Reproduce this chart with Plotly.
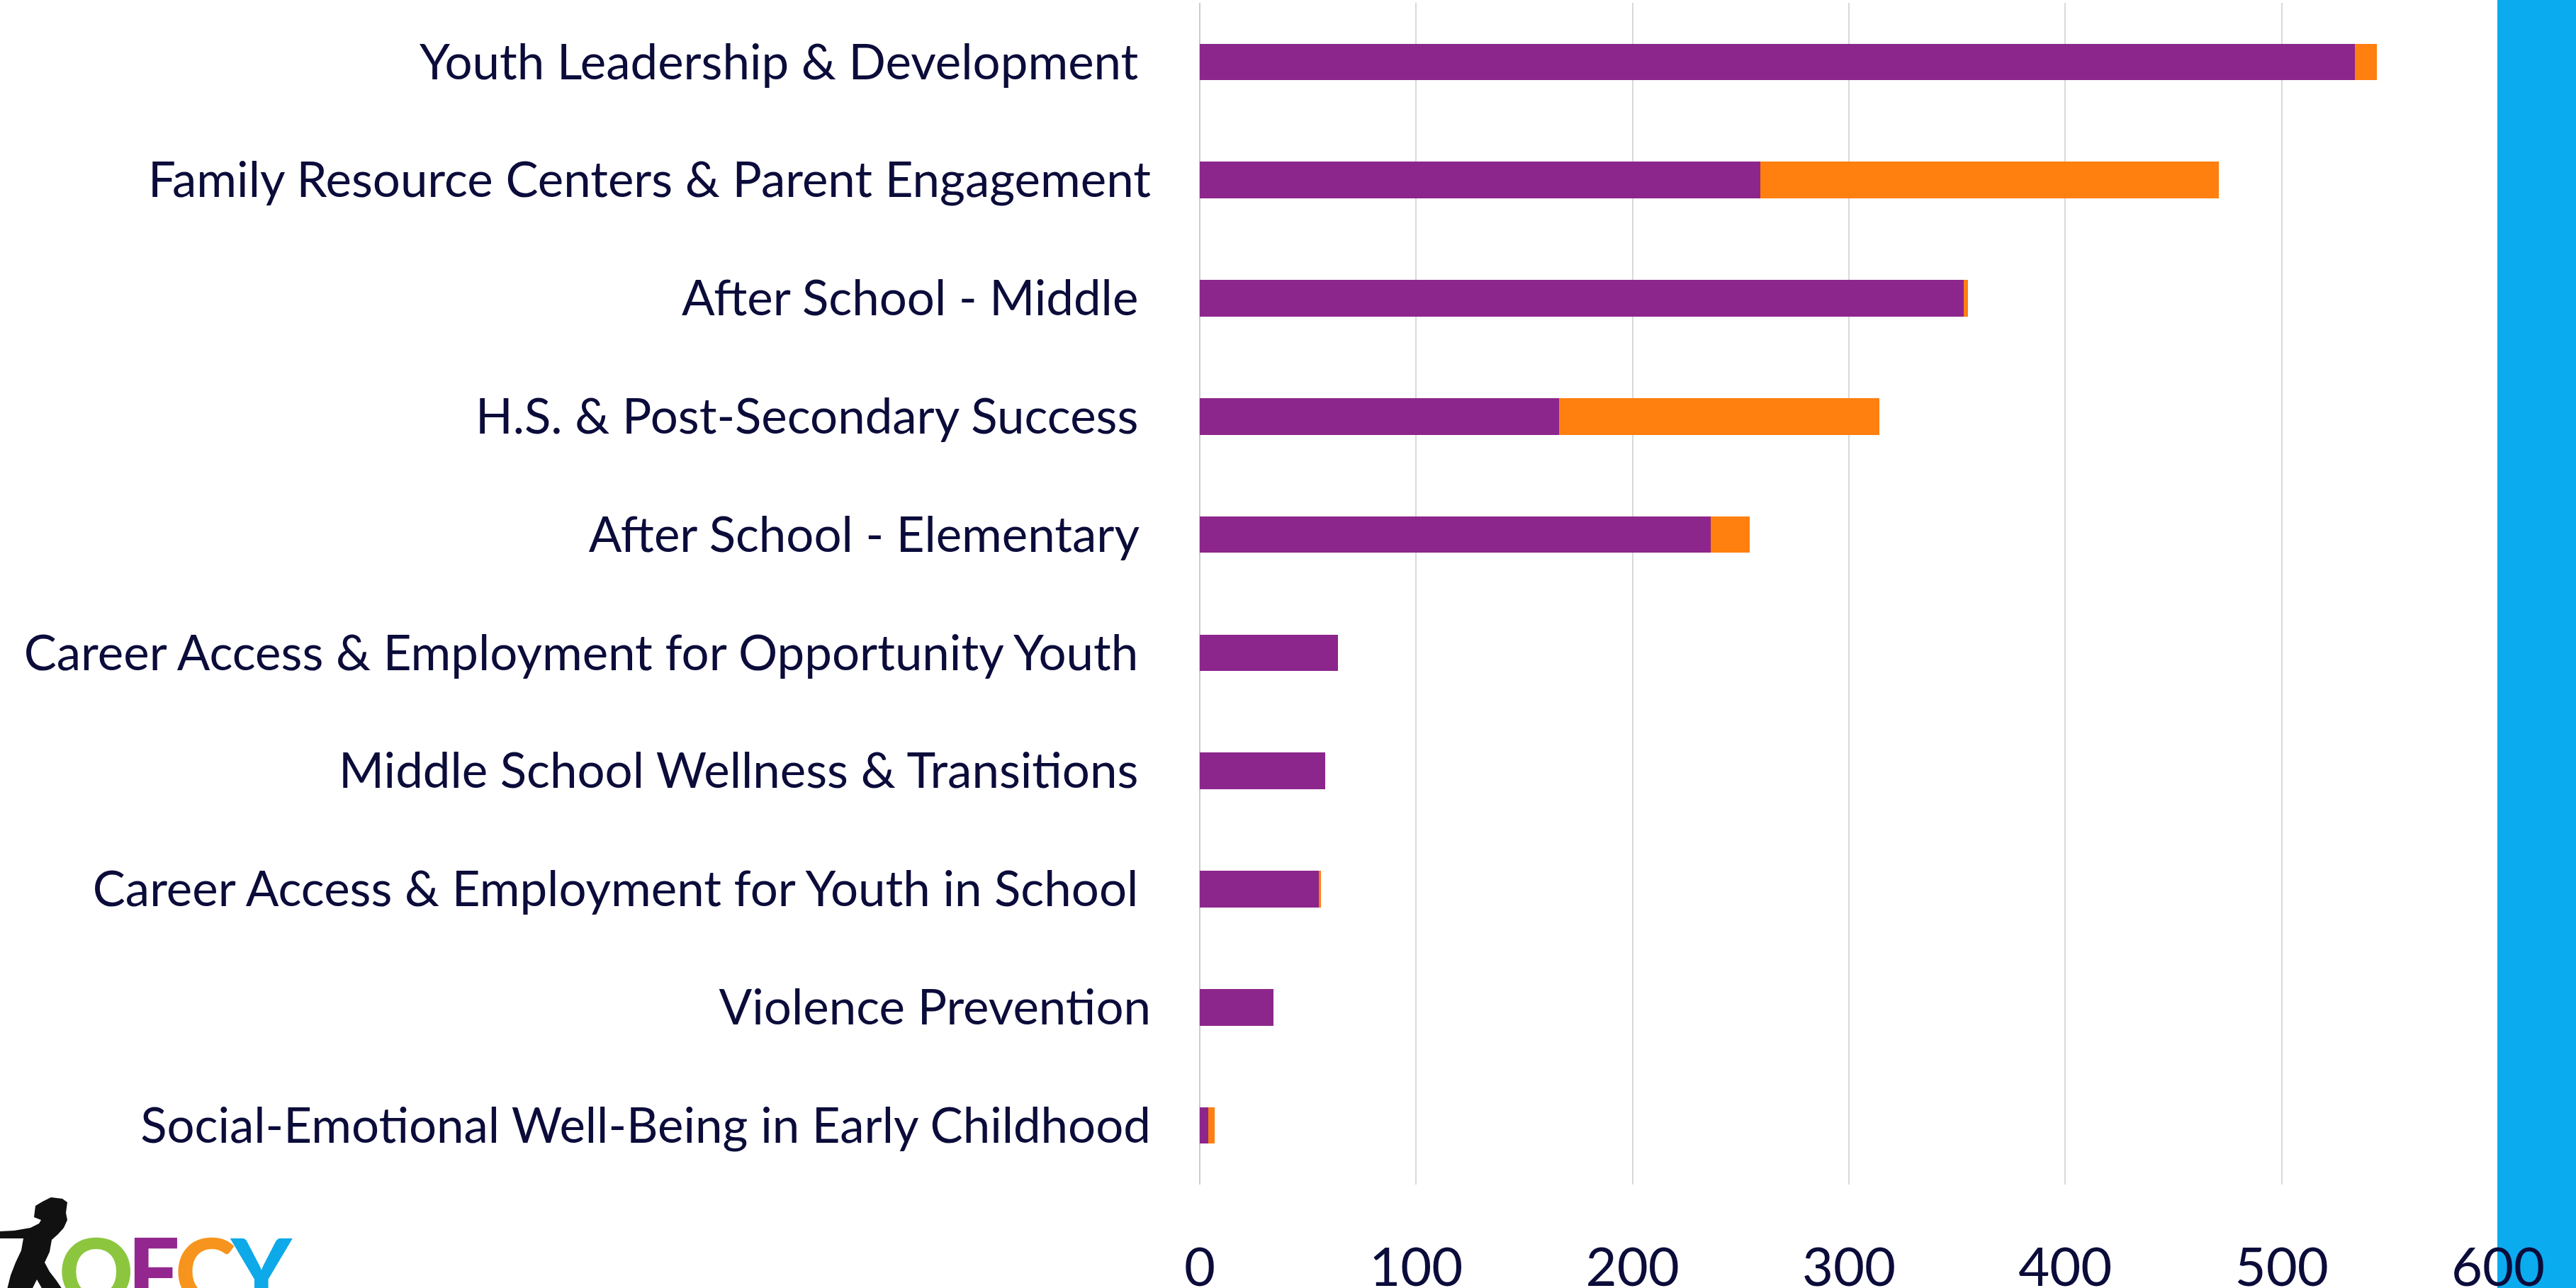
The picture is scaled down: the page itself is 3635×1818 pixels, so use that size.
import plotly.graph_objects as go

W, H = 3635, 1818
L, R, T, B = 1693, 110, 4, 146

categories = [
    "Youth Leadership & Development\u00a0",
    "Family Resource Centers & Parent Engagement",
    "After School - Middle\u00a0",
    "H.S. & Post-Secondary Success\u00a0",
    "After School - Elementary\u00a0",
    "Career Access & Employment for Opportunity Youth\u00a0",
    "Middle School Wellness & Transitions\u00a0",
    "Career Access & Employment for Youth in School\u00a0",
    "Violence Prevention",
    "Social-Emotional Well-Being in Early Childhood",
]
series_a = [534, 259, 353, 166, 236, 64, 58, 55, 34, 4]
series_b = [10, 212, 2, 148, 18, 0, 0, 1, 0, 3]
x_ticks = [0, 100, 200, 300, 400, 500, 600]

PURPLE = "#8C268C"
ORANGE = "#FF7F0F"
BLUE = "#0BABEF"
NAVY = "#0B0C3A"
FONT = "Lato"

fig = go.Figure()
fig.add_trace(go.Bar(y=categories, x=series_a, orientation="h",
                     marker=dict(color=PURPLE, line=dict(width=0)), name="A"))
fig.add_trace(go.Bar(y=categories, x=series_b, orientation="h",
                     marker=dict(color=ORANGE, line=dict(width=0)), name="B"))

pw, ph = W - L - R, H - T - B


def px(x):
    return (x - L) / pw


def py(y):
    return (H - B - y) / ph


# blue strip on the right
fig.add_shape(type="rect", xref="paper", yref="paper",
              x0=px(3524), x1=px(3640), y0=py(1830), y1=py(-10),
              fillcolor=BLUE, line=dict(width=0), layer="below")

# logo silhouette (rough)
sil = [(72, 1690), (88, 1692), (95, 1697), (93, 1712), (95, 1722), (90, 1733),
       (82, 1742), (73, 1750), (70, 1767), (63, 1782), (70, 1795), (80, 1808),
       (88, 1820), (60, 1820), (52, 1806), (45, 1820), (10, 1820), (15, 1800),
       (22, 1782), (30, 1765), (33, 1748), (15, 1748), (0, 1748), (0, 1738),
       (20, 1737), (43, 1733), (55, 1727), (58, 1722), (48, 1718), (50, 1702),
       (60, 1696)]
path = "M " + " L ".join(f"{px(a):.5f},{py(b):.5f}" for a, b in sil) + " Z"
fig.add_shape(type="path", xref="paper", yref="paper", path=path,
              fillcolor="#111111", line=dict(width=0), layer="above")

logo = [("O", "#8CC63F", 135), ("F", "#93278F", 217), ("C", "#F7941D", 290), ("Y", "#0DA9E8", 368)]
for ch, col, cx in logo:
    fig.add_annotation(text=ch, xref="paper", yref="paper",
                       x=px(cx), y=py(1792), xanchor="center", yanchor="middle",
                       showarrow=False,
                       font=dict(family=FONT, size=130, color=col, weight=900))

fig.update_layout(
    width=W, height=H,
    margin=dict(l=L, r=R, t=T, b=B, pad=0, autoexpand=False),
    barmode="stack", bargap=0.69,
    showlegend=False,
    plot_bgcolor="white", paper_bgcolor="white",
    font=dict(family=FONT, color=NAVY),
    xaxis=dict(range=[0, 600], tickvals=x_ticks, ticktext=[str(v) for v in x_ticks],
               showgrid=True, gridcolor="#D9D9D9", gridwidth=2,
               zeroline=True, zerolinecolor="#CCCCCC", zerolinewidth=2,
               showline=False, ticks="", ticklabelstandoff=66, automargin=False,
               tickfont=dict(family=FONT, size=76, color=NAVY)),
    yaxis=dict(autorange="reversed", showgrid=False, showline=False, ticks="",
               ticklabelstandoff=68, automargin=False,
               tickfont=dict(family=FONT, size=69, color=NAVY)),
)

fig.write_html("out.html", config={"displayModeBar": False},
               post_script="document.body.style.margin='0';document.body.style.padding='0';document.body.style.overflow='hidden';")
